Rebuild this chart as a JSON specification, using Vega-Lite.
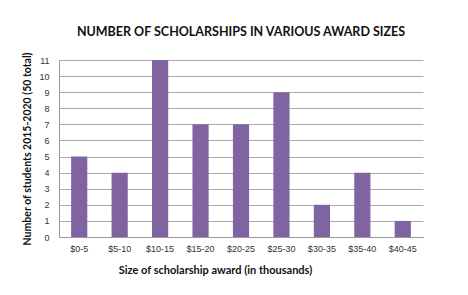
{
  "$schema": "https://vega.github.io/schema/vega-lite/v6.json",
  "autosize": "none",
  "width": 364,
  "height": 177,
  "padding": {"left": 59, "top": 60, "right": 45, "bottom": 58},
  "background": "white",
  "title": {
    "text": "NUMBER OF SCHOLARSHIPS IN VARIOUS AWARD SIZES",
    "font": "Lato",
    "fontSize": 12.5,
    "fontWeight": "bold",
    "color": "#111111",
    "anchor": "middle",
    "frame": "group",
    "offset": 12
  },
  "data": {
    "values": [
      {"award": "$0-5", "count": 5},
      {"award": "$5-10", "count": 4},
      {"award": "$10-15", "count": 11},
      {"award": "$15-20", "count": 7},
      {"award": "$20-25", "count": 7},
      {"award": "$25-30", "count": 9},
      {"award": "$30-35", "count": 2},
      {"award": "$35-40", "count": 4},
      {"award": "$40-45", "count": 1}
    ]
  },
  "mark": {"type": "bar", "color": "#8064A2"},
  "encoding": {
    "x": {
      "field": "award",
      "type": "nominal",
      "sort": null,
      "scale": {"paddingInner": 0.6, "paddingOuter": 0.3},
      "axis": {
        "title": "Size of scholarship award (in thousands)",
        "titleFont": "Lato",
        "titleFontSize": 11,
        "titleFontWeight": "bold",
        "titleColor": "#111111",
        "titlePadding": 11,
        "titleX": 156,
        "titleAlign": "center",
        "labelAngle": 0,
        "labelFont": "Liberation Sans",
        "labelFontSize": 9,
        "labelColor": "#333333",
        "labelPadding": 7,
        "ticks": false,
        "domainColor": "#999999",
        "grid": false
      }
    },
    "y": {
      "field": "count",
      "type": "quantitative",
      "scale": {"domain": [0, 11]},
      "axis": {
        "title": "Number of students  2015-2020 (50 total)",
        "titleFont": "Lato",
        "titleFontSize": 10.5,
        "titleFontWeight": "bold",
        "titleColor": "#111111",
        "titlePadding": 6,
        "values": [0,1,2,3,4,5,6,7,8,9,10,11],
        "labelFont": "Liberation Sans",
        "labelFontSize": 9,
        "labelColor": "#333333",
        "labelPadding": 10,
        "ticks": false,
        "domainColor": "#999999",
        "grid": true,
        "gridColor": "#aaaaaa",
        "gridWidth": 1
      }
    }
  },
  "config": {"view": {"stroke": null}}
}
